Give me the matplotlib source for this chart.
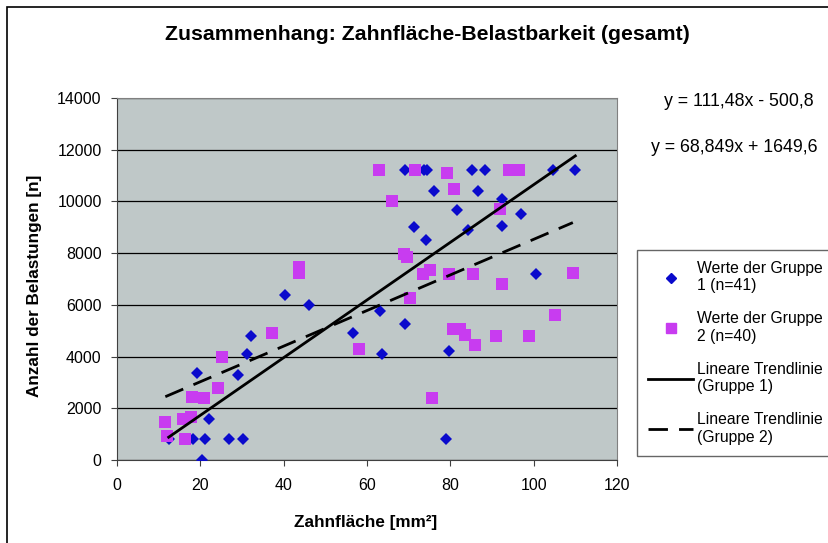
import numpy as np
import matplotlib
matplotlib.use("Agg")
import matplotlib.pyplot as plt
from matplotlib.lines import Line2D
from matplotlib.patches import Rectangle

plt.rcParams['font.family'] = ['Liberation Sans', 'DejaVu Sans']

## Werte Gruppe 1 (blaue Rauten)
g1_x = [12.4, 18.2, 21.2, 27.0, 30.2, 20.4, 22.0, 19.2, 29.0, 31.2, 32.2, 40.3,
        46.0, 56.7, 63.2, 63.5, 69.1, 69.1, 73.6, 74.3, 76.0, 71.2, 74.1, 81.6,
        84.2, 85.2, 86.6, 88.3, 92.4, 92.4, 96.9, 100.6, 104.7, 110.0, 79.8, 79.0]
g1_y = [800, 800, 800, 800, 800, 0, 1600, 3350, 3300, 4100, 4800, 6400,
        6000, 4900, 5750, 4100, 5250, 11200, 11200, 11200, 10400, 9000, 8500, 9650,
        8900, 11200, 10400, 11200, 10100, 9050, 9500, 7200, 11200, 11200, 4200, 800]

## Werte Gruppe 2 (magenta Quadrate)
g2_x = [11.6, 11.9, 15.8, 17.8, 16.3, 18.0, 20.8, 24.3, 25.1, 37.2, 43.7, 43.8,
        58.0, 62.8, 66.0, 68.8, 69.5, 71.4, 73.5, 75.1, 70.4, 75.5, 79.2, 80.8,
        79.6, 80.7, 82.4, 83.5, 86.0, 85.5, 90.9, 92.4, 92.0, 94.0, 96.4, 98.9,
        105.2, 109.4]
g2_y = [1480, 930, 1600, 1680, 800, 2450, 2400, 2800, 4000, 4900, 7450, 7250,
        4300, 11200, 10000, 7950, 7850, 11200, 7200, 7350, 6250, 2400, 11100, 10500,
        7200, 5050, 5050, 4850, 4450, 7200, 4800, 6800, 9700, 11200, 11200, 4800,
        5600, 7250]

## Trendlinien (aus Excel)
trend1 = (111.48, -500.8)
trend2 = (68.849, 1649.6)
eq_labels = ["y = 111,48x - 500,8", "y = 68,849x + 1649,6"]

fig = plt.figure(figsize=(8.29, 5.43), dpi=100)
W, H = 829.0, 543.0
ax = fig.add_axes([117 / W, 1 - 460 / H, 500 / W, 362 / H])
ax.set_facecolor('#bfc8c8')

ax.set_xlim(0, 120)
ax.set_ylim(0, 14000)
ax.set_xticks(np.arange(0, 121, 20))
ax.set_yticks(np.arange(0, 14001, 2000))
ax.yaxis.grid(True, color='black', linewidth=0.9)
ax.set_axisbelow(True)
ax.tick_params(labelsize=11.5, direction='out', length=4, color='#404040')
ax.tick_params(axis='x', pad=9)
ax.tick_params(axis='y', pad=7)
for s in ['top', 'right']:
    ax.spines[s].set_color('#808080')
for s in ['left', 'bottom']:
    ax.spines[s].set_color('#404040')

ax.plot(g1_x, g1_y, 'D', color='#0a0acc', markersize=6, markeredgewidth=0, zorder=3)
ax.plot(g2_x, g2_y, 's', color='#c83cf0', markersize=8, markeredgewidth=0, zorder=3)

x1 = np.array([min(g1_x), max(g1_x)])
ax.plot(x1, trend1[0] * x1 + trend1[1], color='black', linewidth=2, zorder=4)
x2 = np.array([min(g2_x), max(g2_x)])
ax.plot(x2, trend2[0] * x2 + trend2[1], color='black', linewidth=2,
        dashes=(7, 4), zorder=4)

fig.text(366 / W, 1 - 522 / H, "Zahnfläche [mm²]", ha='center', va='center',
         fontsize=12.3, fontweight='bold')
fig.text(35 / W, 1 - 286 / H, "Anzahl der Belastungen [n]", ha='center', va='center',
         rotation=90, fontsize=12.3, fontweight='bold')

fig.text(427 / W, 1 - 35 / H, "Zusammenhang: Zahnfläche-Belastbarkeit (gesamt)",
         ha='center', va='center', fontsize=15.3, fontweight='bold')
fig.text(814 / W, 1 - 101 / H, eq_labels[0], ha='right', va='center', fontsize=12.8)
fig.text(818 / W, 1 - 147 / H, eq_labels[1], ha='right', va='center', fontsize=12.8)

handles = [
    Line2D([], [], marker='D', color='#0a0acc', linestyle='none', markersize=5),
    Line2D([], [], marker='s', color='#c83cf0', linestyle='none', markersize=7),
    Line2D([], [], color='black', linewidth=2),
    Line2D([], [], color='black', linewidth=2, dashes=(7, 4)),
]
labels = ["Werte der Gruppe\n1 (n=41)", "Werte der Gruppe\n2 (n=40)",
          "Lineare Trendlinie\n(Gruppe 1)", "Lineare Trendlinie\n(Gruppe 2)"]
leg = fig.legend(handles, labels, loc='upper left', bbox_to_anchor=(637 / W, 1 - 250 / H),
                 fontsize=11.3, frameon=True, fancybox=False, edgecolor='#404040',
                 handlelength=2.9, handletextpad=0.2, labelspacing=1.15,
                 borderpad=0.7, borderaxespad=0)
leg.get_frame().set_linewidth(1.0)

fig.patches.append(Rectangle((7 / W, -0.1), 1.1, 1 - 7 / H + 0.1,
                             transform=fig.transFigure, fill=False,
                             edgecolor='black', linewidth=1.2))

plt.savefig("out.png", dpi=100)
plt.close()
